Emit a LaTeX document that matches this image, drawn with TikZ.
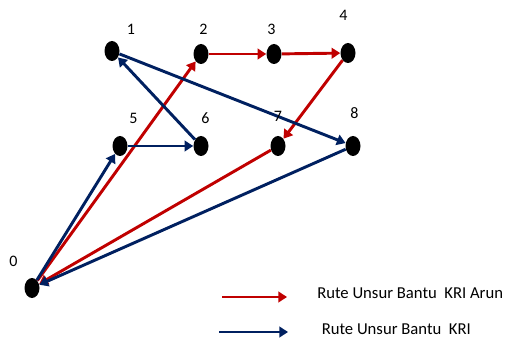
\documentclass[tikz,border=0pt]{standalone}
\usepackage{fontspec}
\setmainfont{Carlito}
\usepackage{xcolor}
\usepackage{tikz}
\usetikzlibrary{shapes.geometric,arrows.meta}

\definecolor{arunred}{RGB}{192,0,0}
\definecolor{krinavy}{RGB}{0,32,96}

\begin{document}
\begin{tikzpicture}[x=0.75pt,y=0.75pt,yscale=-1,xscale=1,
  font=\fontsize{12}{14.4}\selectfont,
  stop/.style={ellipse,fill=black,inner sep=0pt,minimum width=11.25pt,minimum height=15pt},
  redroute/.style={draw=arunred,line width=2.2pt,-{Triangle[length=6.5pt,width=8pt]}},
  blueroute/.style={draw=krinavy,line width=2.2pt,-{Triangle[length=6.5pt,width=8pt]}}]

\useasboundingbox (0,0) rectangle (505,341);

% stops
\node [stop] (s0) at (32,288) {};

\node [stop] (s1) at (112,51) {};

\node [stop] (s2) at (201,54) {};

\node [stop] (s3) at (274,54) {};

\node [stop] (s4) at (348,53) {};

\node [stop] (s5) at (120,146) {};

\node [stop] (s6) at (201,146) {};

\node [stop] (s7) at (278,146) {};

\node [stop] (s8) at (353,146) {};



% route KRI Arun
\draw [redroute] (s0) -- (s2);

\draw [redroute] (s2) -- (s3);

\draw [redroute] (s3) -- (s4);

\draw [redroute] (s4) -- (s7);

\draw [redroute] (s7) -- (s0);

% route KRI
\draw [blueroute] (s0) -- (s5);

\draw [blueroute] (s5) -- (s6);

\draw [blueroute] (s6) -- (s1);

\draw [blueroute] (s1) -- (s8);

\draw [blueroute] (s8) -- (s0);



% stop numbers
\draw (13.5,261) node (n0) [inner sep=0.75pt] [align=left] {0};

\draw (131,29) node (n1) [inner sep=0.75pt] [align=left] {1};

\draw (203.5,29) node (n2) [inner sep=0.75pt] [align=left] {2};

\draw (271.5,29) node (n3) [inner sep=0.75pt] [align=left] {3};

\draw (343.5,15.5) node (n4) [inner sep=0.75pt] [align=left] {4};

\draw (133.5,118.5) node (n5) [inner sep=0.75pt] [align=left] {5};

\draw (205.5,118) node (n6) [inner sep=0.75pt] [align=left] {6};

\draw (278,116) node (n7) [inner sep=0.75pt] [align=left] {7};

\draw (354.5,113.5) node (n8) [inner sep=0.75pt] [align=left] {8};



% legend
\coordinate (redtail) at (222,297);
\coordinate (redhead) at (287,297);
\draw [redroute] (redtail) -- (redhead);

\coordinate (bluetail) at (219,332);
\coordinate (bluehead) at (288,332);
\draw [blueroute] (bluetail) -- (bluehead);

\draw (316,293.5) node (redtext) [anchor=west][inner sep=0.75pt] [align=left] {\fontsize{12.5}{15}\selectfont Rute Unsur Bantu \ KRI Arun};

\draw (320.5,329.5) node (bluetext) [anchor=west][inner sep=0.75pt] [align=left] {\fontsize{12.5}{15}\selectfont Rute Unsur Bantu \ KRI};

\end{tikzpicture}
\end{document}
